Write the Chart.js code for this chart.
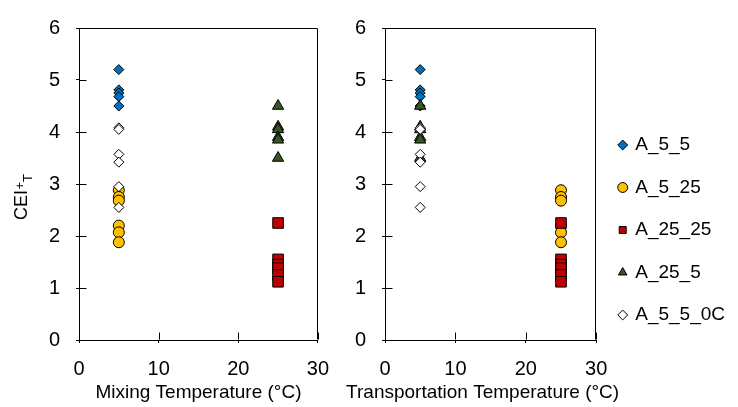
<!DOCTYPE html>
<html>
<head>
<meta charset="utf-8">
<script src="https://cdn.jsdelivr.net/npm/chart.js@4.4.1/dist/chart.umd.min.js"></script>
<style>
  body { margin: 0; background: #fff; }
  #wrap { position: relative; width: 738px; height: 407px; }
  #wrap canvas { position: absolute; top: 0; }
  #mixing { left: 0; }
  #transport { left: 335px; }
</style>
</head>
<body>
<div id="wrap">
  <canvas id="mixing" width="343" height="407"></canvas>
  <canvas id="transport" width="403" height="407"></canvas>
</div>
<script>
// series and their storage temperatures
const seriesNames = ['A_5_5', 'A_5_25', 'A_25_25', 'A_25_5', 'A_5_5_0C'];
const mixingTemp = [5, 5, 25, 25, 5];
const transportTemp = [5, 25, 25, 5, 5];

// CEI+T values per series
const ceiA_5_5 = [5.2, 4.81, 4.75, 4.68, 4.5];
const ceiA_5_25 = [2.88, 2.75, 2.68, 2.2, 2.07, 1.88];
const ceiA_25_25 = [2.25, 1.55, 1.45, 1.38, 1.25, 1.12];
const ceiA_25_5 = [4.5, 4.1, 4.05, 3.9, 3.85, 3.5];
const ceiA_5_5_0C = [4.08, 4.05, 3.57, 3.42, 2.95, 2.55];
const seriesValues = [ceiA_5_5, ceiA_5_25, ceiA_25_25, ceiA_25_5, ceiA_5_5_0C];

const xTicks = [0, 10, 20, 30];
const yTicks = [0, 1, 2, 3, 4, 5, 6];

const seriesStyle = [
  { pointStyle: 'rectRot', color: '#0070C0', radius: 5 },
  { pointStyle: 'circle', color: '#FFC000', radius: 5.5 },
  { pointStyle: 'rect', color: '#C00000', radius: 7.5 },
  { pointStyle: 'triangle', color: '#375623', radius: 6.5 },
  { pointStyle: 'rectRot', color: '#FFFFFF', radius: 5 }
];

const FONT = "'Liberation Sans', Arial, sans-serif";
Chart.defaults.font.family = FONT;
Chart.defaults.color = '#000';

function makeDatasets(temps) {
  return seriesNames.map((name, i) => ({
    label: name,
    data: seriesValues[i].map(v => ({ x: temps[i], y: v })),
    pointStyle: seriesStyle[i].pointStyle,
    pointRadius: seriesStyle[i].radius,
    backgroundColor: seriesStyle[i].color,
    borderColor: '#000',
    borderWidth: 1,
    // later series sit on top
    order: seriesNames.length - i
  }));
}

// box around the plot area, short inward tick marks and the x axis title
const frame = {
  id: 'frame',
  afterDraw(chart, args, opts) {
    const { ctx, chartArea: a, scales: { x, y } } = chart;
    const L = Math.round(a.left) + 0.5, R = Math.round(a.right) - 0.5;
    const T = Math.round(a.top) + 0.5, B = Math.round(a.bottom) - 0.5;
    ctx.save();
    ctx.strokeStyle = '#000';
    ctx.lineWidth = 1;
    ctx.beginPath();
    ctx.moveTo(L, T); ctx.lineTo(R, T); ctx.lineTo(R, B);
    xTicks.forEach(v => {
      const px = Math.round(x.getPixelForValue(v)) + 0.5;
      ctx.moveTo(px, B); ctx.lineTo(px, B - 7);
    });
    yTicks.forEach(v => {
      const py = Math.round(y.getPixelForValue(v)) + 0.5;
      ctx.moveTo(L, py); ctx.lineTo(L + 7, py);
    });
    ctx.stroke();
    ctx.fillStyle = '#000';
    ctx.font = '19px ' + FONT;
    ctx.textAlign = 'center';
    ctx.textBaseline = 'middle';
    ctx.fillText(opts.xTitle, (a.left + a.right) / 2 + (opts.shift || 0), 393);
    ctx.restore();
  }
};

// y axis title with superscript + and subscript T
const yTitle = {
  id: 'yTitle',
  afterDraw(chart) {
    const { ctx } = chart;
    ctx.save();
    ctx.translate(27, 220);
    ctx.rotate(-Math.PI / 2);
    ctx.fillStyle = '#000';
    ctx.textBaseline = 'alphabetic';
    ctx.font = '18px ' + FONT;
    ctx.fillText('CEI', 0, 0);
    let w = ctx.measureText('CEI').width;
    ctx.font = '13px ' + FONT;
    ctx.fillText('+', w + 0.5, -3);
    w += ctx.measureText('+').width + 0.5;
    ctx.fillText('T', w, 5);
    ctx.restore();
  }
};

function scaleOptions() {
  return {
    x: {
      type: 'linear',
      min: xTicks[0],
      max: xTicks[xTicks.length - 1],
      afterFit: s => { s.height = 67; },
      ticks: { stepSize: xTicks[1] - xTicks[0], font: { size: 20 }, padding: 14, maxRotation: 0 },
      grid: { display: true, drawOnChartArea: false, tickLength: 3, color: '#000' },
      border: { color: '#000', width: 1 }
    },
    y: {
      min: yTicks[0],
      max: yTicks[yTicks.length - 1],
      afterFit: s => { s.width = 44; },
      ticks: { stepSize: yTicks[1] - yTicks[0], font: { size: 20 }, padding: 16 },
      grid: { display: true, drawOnChartArea: false, tickLength: 3, color: '#000' },
      border: { color: '#000', width: 1 }
    }
  };
}

new Chart(document.getElementById('mixing'), {
  type: 'scatter',
  data: { datasets: makeDatasets(mixingTemp) },
  options: {
    responsive: false,
    animation: false,
    layout: { padding: { left: 35, top: 19, right: 0, bottom: 0 } },
    scales: scaleOptions(),
    plugins: {
      legend: { display: false },
      tooltip: { enabled: false },
      frame: { xTitle: 'Mixing Temperature (°C)' }
    }
  },
  plugins: [frame, yTitle]
});

new Chart(document.getElementById('transport'), {
  type: 'scatter',
  data: { datasets: makeDatasets(transportTemp) },
  options: {
    responsive: false,
    animation: false,
    layout: { padding: { left: 6, top: 19, right: 3, bottom: 0 } },
    scales: scaleOptions(),
    plugins: {
      frame: { xTitle: 'Transportation Temperature (°C)', shift: -8 },
      legend: {
        position: 'right',
        align: 'start',
        reverse: true,
        maxWidth: 146,
        title: { display: true, text: '', font: { size: 10 }, padding: { top: 81, bottom: 0 } },
        labels: {
          usePointStyle: true,
          boxWidth: 6,
          boxHeight: 7,
          padding: 23.5,
          font: { size: 19 },
          color: '#000'
        }
      },
      tooltip: { enabled: false }
    }
  },
  plugins: [frame]
});
</script>
</body>
</html>
